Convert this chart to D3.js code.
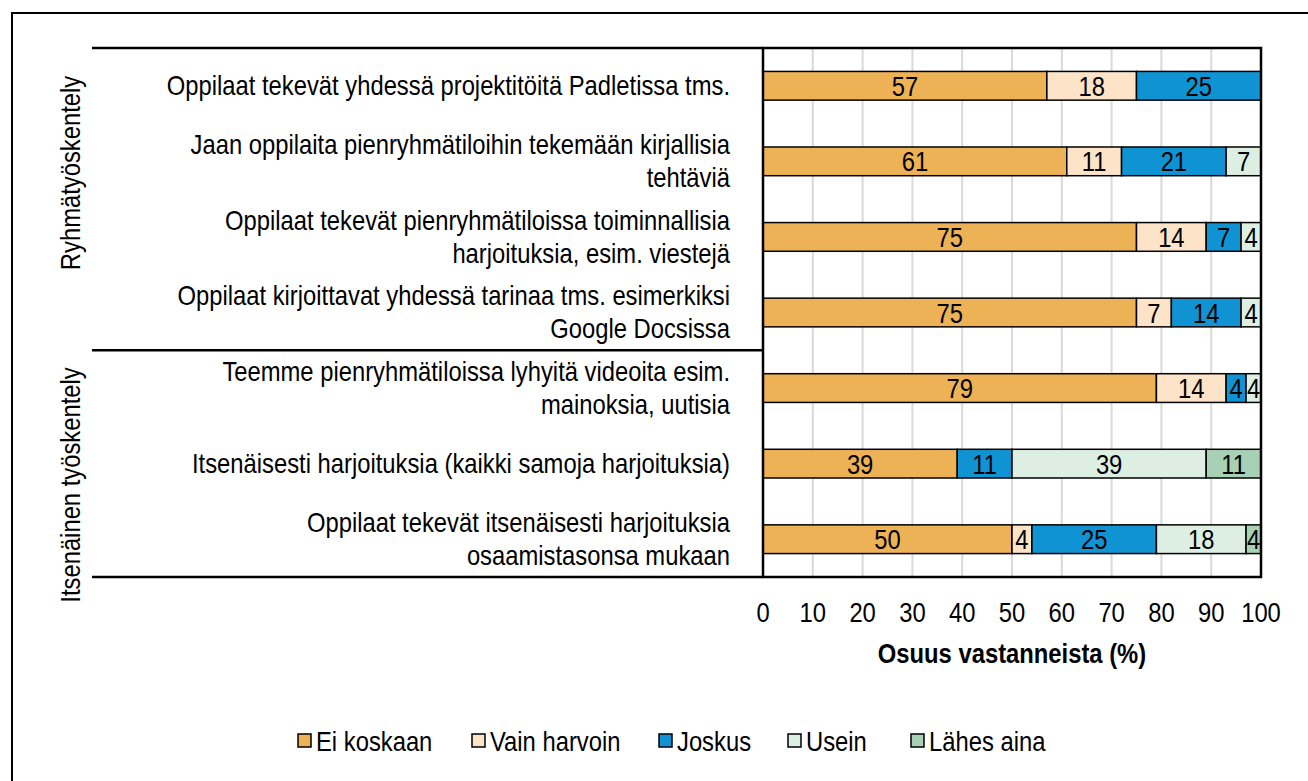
<!DOCTYPE html>
<html lang="fi">
<head>
    <meta charset="UTF-8">
    <title>Työskentelytavat</title>
    <script src="https://cdnjs.cloudflare.com/ajax/libs/d3/7.8.5/d3.min.js"></script>
    <style>
        body { margin: 0; background: #fff; }
        svg text { font-family: 'Liberation Sans', Arial, sans-serif; font-size: 28px; fill: #000; }
        .grid { stroke: #d9d9d9; stroke-width: 2; }
        .seg { stroke: #000; stroke-width: 1.5; }
    </style>
</head>
<body>
<div id="chart"></div>
<script>
    // Data
    const rows = [
        ["Oppilaat tekevät yhdessä projektitöitä Padletissa tms."],
        ["Jaan oppilaita pienryhmätiloihin tekemään kirjallisia", "tehtäviä"],
        ["Oppilaat tekevät pienryhmätiloissa toiminnallisia", "harjoituksia, esim. viestejä"],
        ["Oppilaat kirjoittavat yhdessä tarinaa tms. esimerkiksi", "Google Docsissa"],
        ["Teemme pienryhmätiloissa lyhyitä videoita esim.", "mainoksia, uutisia"],
        ["Itsenäisesti harjoituksia (kaikki samoja harjoituksia)"],
        ["Oppilaat tekevät itsenäisesti harjoituksia", "osaamistasonsa mukaan"]
    ];
    const series = ["Ei koskaan", "Vain harvoin", "Joskus", "Usein", "Lähes aina"];
    const eiKoskaan  = [57, 61, 75, 75, 79, 39, 50];
    const vainHarvoin = [18, 11, 14, 7, 14, 0, 4];
    const joskus     = [25, 21, 7, 14, 4, 11, 25];
    const usein      = [0, 7, 4, 4, 4, 39, 18];
    const lahesAina  = [0, 0, 0, 0, 0, 11, 4];
    const groups = ["Ryhmätyöskentely", "Itsenäinen työskentely"];
    const xTicks = [0, 10, 20, 30, 40, 50, 60, 70, 80, 90, 100];
    const colors = ["#EDB255", "#FDE3C8", "#1093D2", "#DDEEE3", "#A6D1B4"];

    const values = [eiKoskaan, vainHarvoin, joskus, usein, lahesAina];

    const W = 1308, H = 781;
    const plot = { left: 763, right: 1261, top: 48, bottom: 577 };
    const narrow = 0.85; // squeeze text to imitate a narrow font

    const svg = d3.select("#chart").append("svg")
        .attr("width", W).attr("height", H);

    // text placed at (x,y) and squeezed horizontally
    function label(px, py, str, anchor, extra) {
        const g = svg.append("g")
            .attr("transform", `translate(${px},${py}) ${extra || ""} scale(${narrow},1)`);
        return g.append("text")
            .attr("text-anchor", anchor)
            .text(str);
    }

    // outer frame
    svg.append("rect")
        .attr("x", 12).attr("y", 13)
        .attr("width", W).attr("height", H)
        .attr("fill", "none").attr("stroke", "#000").attr("stroke-width", 2);

    const x = d3.scaleLinear().domain([0, 100]).range([plot.left, plot.right]);
    const y = d3.scaleBand()
        .domain(d3.range(rows.length))
        .range([plot.top, plot.bottom])
        .paddingInner(0.62).paddingOuter(0.31);

    // grid
    svg.selectAll(".grid")
        .data(xTicks.slice(1, -1))
        .enter().append("line")
        .attr("class", "grid")
        .attr("x1", d => x(d)).attr("x2", d => x(d))
        .attr("y1", plot.top).attr("y2", plot.bottom);

    // stacked segments
    const stacked = rows.map((r, i) => {
        let acc = 0;
        return values.map((v, s) => {
            const seg = { row: i, s: s, x0: acc, x1: acc + v[i], v: v[i] };
            acc += v[i];
            return seg;
        }).filter(d => d.v > 0);
    }).flat();

    svg.selectAll(".seg")
        .data(stacked)
        .enter().append("rect")
        .attr("class", "seg")
        .attr("x", d => x(d.x0))
        .attr("width", d => Math.min(x(d.x1), plot.right) - x(d.x0))
        .attr("y", d => y(d.row))
        .attr("height", y.bandwidth())
        .attr("fill", d => colors[d.s]);

    stacked.forEach(d => {
        const cx = (x(d.x0) + Math.min(x(d.x1), plot.right)) / 2;
        label(cx, y(d.row) + y.bandwidth() / 2, d.v, "middle").attr("dy", "0.36em");
    });

    // plot frame
    svg.append("rect")
        .attr("x", plot.left).attr("y", plot.top)
        .attr("width", plot.right - plot.left).attr("height", plot.bottom - plot.top)
        .attr("fill", "none").attr("stroke", "#000").attr("stroke-width", 2.5);

    // category labels
    rows.forEach((lines, i) => {
        const cy = y(i) + y.bandwidth() / 2;
        lines.forEach((ln, k) => {
            label(730, cy + (k - (lines.length - 1) / 2) * 33 - 1, ln, "end")
                .attr("dy", "0.36em");
        });
    });

    // group separators
    const sepY = [plot.top, plot.top + y.step() * 4, plot.bottom];
    svg.selectAll(".sep")
        .data(sepY)
        .enter().append("line")
        .attr("x1", 92).attr("x2", plot.left)
        .attr("y1", d => d).attr("y2", d => d)
        .attr("stroke", "#000").attr("stroke-width", 2.5);

    // group labels (rotated)
    const groupCenters = [173, 485];
    groups.forEach((g, i) => {
        svg.append("g")
            .attr("transform", `translate(80,${groupCenters[i]}) rotate(-90) scale(${narrow},1)`)
            .append("text")
            .attr("text-anchor", "middle")
            .text(g);
    });

    // x tick labels
    xTicks.forEach(t => label(x(t), 622, t, "middle"));

    label((plot.left + plot.right) / 2, 663, "Osuus vastanneista (%)", "middle")
        .style("font-weight", "bold");

    // legend
    const legendX = [298, 472, 659, 788, 911];
    series.forEach((s, i) => {
        svg.append("rect")
            .attr("x", legendX[i]).attr("y", 734)
            .attr("width", 13).attr("height", 13)
            .attr("fill", colors[i])
            .attr("stroke", "#000").attr("stroke-width", 1.5);
        label(legendX[i] + 18, 741, s, "start").attr("dy", "0.36em");
    });
</script>
</body>
</html>
